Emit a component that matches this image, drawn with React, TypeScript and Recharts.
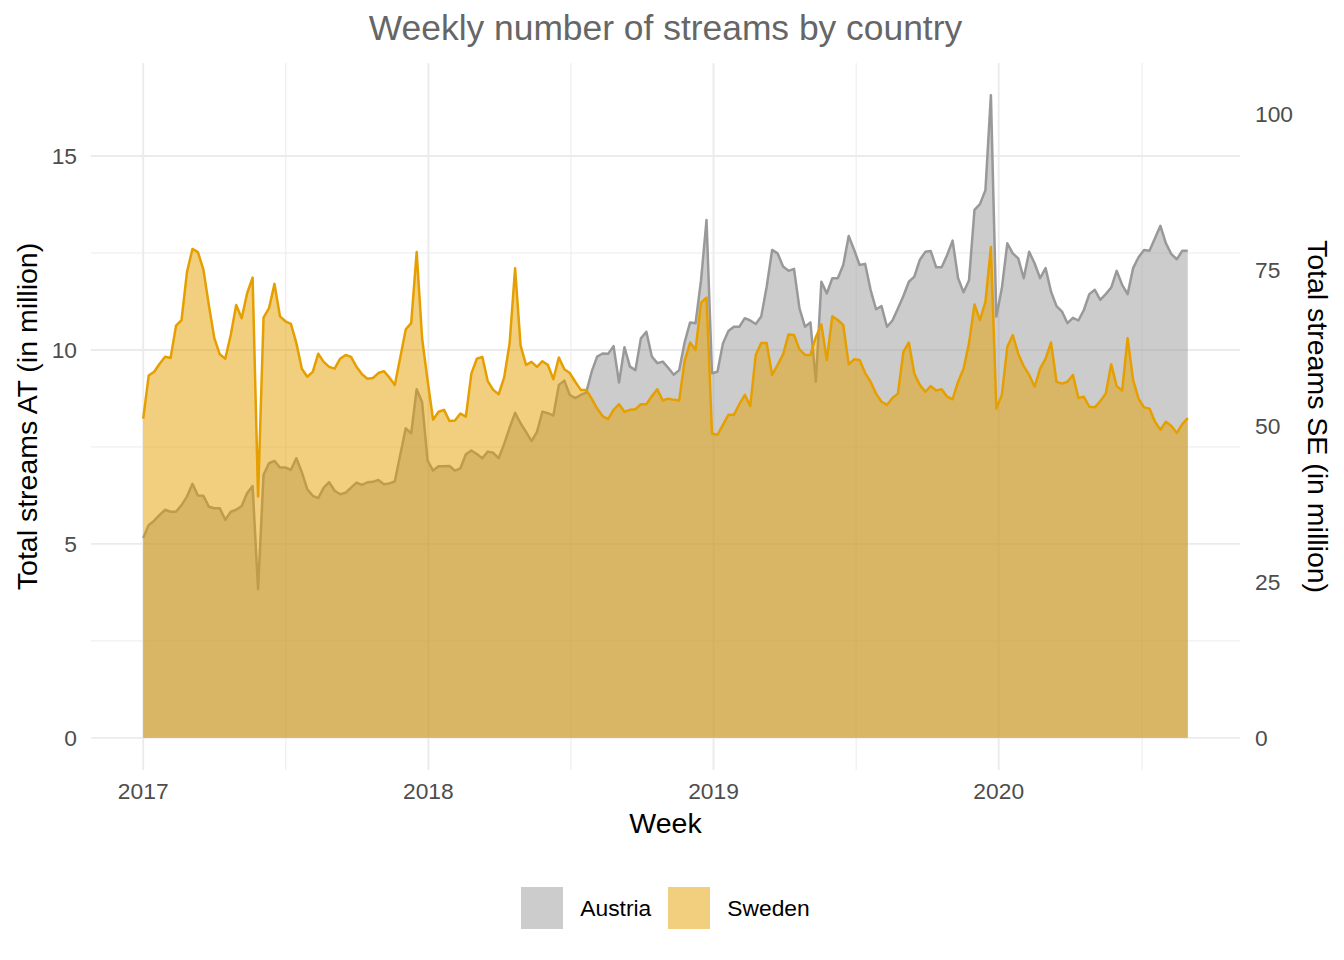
import React from 'react';
import { ComposedChart, Area, XAxis, YAxis, CartesianGrid, Legend, Label } from 'recharts';

// Weekly series, starting on 2017-01-01
const START_DATE = Date.UTC(2017, 0, 1);
const WEEK_MS = 7 * 24 * 3600 * 1000;

// Total streams Austria (million)
const austria = [
  5.15, 5.49, 5.6, 5.75, 5.88, 5.83, 5.83, 6.0, 6.22, 6.55, 6.25, 6.24, 5.96, 5.92, 5.92, 5.62,
  5.83, 5.88, 5.98, 6.31, 6.49, 3.83, 6.78, 7.08, 7.14, 6.97, 6.97, 6.91, 7.21, 6.85, 6.41, 6.24,
  6.18, 6.45, 6.59, 6.37, 6.28, 6.32, 6.45, 6.58, 6.52, 6.59, 6.6, 6.65, 6.54, 6.56, 6.61, 7.3,
  7.98, 7.85, 8.99, 8.65, 7.15, 6.89, 7.0, 7.0, 7.01, 6.89, 6.95, 7.31, 7.41, 7.32, 7.21, 7.38,
  7.35, 7.21, 7.58, 8.0, 8.38, 8.11, 7.89, 7.65, 7.89, 8.41, 8.37, 8.31, 9.1, 9.21, 8.84, 8.76,
  8.84, 8.9, 9.44, 9.83, 9.91, 9.9, 10.1, 9.16, 10.07, 9.57, 9.48, 10.3, 10.47, 9.83, 9.66, 9.7,
  9.54, 9.36, 9.48, 10.2, 10.71, 10.69, 11.8, 13.35, 9.4, 9.44, 10.17, 10.49, 10.6, 10.6, 10.82, 10.76,
  10.67, 10.86, 11.63, 12.58, 12.49, 12.15, 12.04, 12.09, 11.07, 10.6, 10.71, 9.18, 11.76, 11.46, 11.85, 11.85,
  12.19, 12.94, 12.58, 12.19, 12.22, 11.55, 11.05, 11.13, 10.6, 10.76, 11.07, 11.39, 11.76, 11.89, 12.32, 12.53,
  12.55, 12.13, 12.13, 12.45, 12.82, 11.85, 11.49, 11.8, 13.61, 13.76, 14.12, 16.57, 10.86, 11.59, 12.75, 12.49,
  12.36, 11.85, 12.53, 12.23, 11.85, 12.11, 11.5, 11.13, 10.99, 10.69, 10.83, 10.76, 11.03, 11.44, 11.55, 11.29,
  11.44, 11.61, 12.04, 11.68, 11.44, 12.11, 12.39, 12.58, 12.56, 12.88, 13.2, 12.75, 12.47, 12.34, 12.56, 12.56,
];

// Total streams Sweden (million)
const sweden = [
  51.2, 58.1, 58.7, 60.0, 61.1, 60.9, 66.1, 67.0, 74.7, 78.4, 77.9, 75.1, 69.4, 64.1, 61.5, 60.8,
  64.6, 69.4, 67.3, 71.3, 73.8, 38.7, 67.4, 68.9, 72.8, 67.6, 66.8, 66.4, 63.3, 59.2, 57.9, 58.7,
  61.6, 60.3, 59.5, 59.2, 60.8, 61.4, 61.1, 59.5, 58.3, 57.6, 57.7, 58.5, 58.8, 57.8, 56.6, 61.0,
  65.5, 66.5, 77.9, 64.0, 57.3, 51.0, 52.3, 52.6, 50.8, 50.9, 52.0, 51.5, 58.4, 60.8, 61.1, 57.2,
  55.8, 55.1, 57.8, 63.3, 75.3, 62.9, 59.8, 60.3, 59.5, 60.4, 59.8, 57.5, 61.0, 59.1, 58.5, 57.1,
  55.8, 55.8, 54.4, 52.8, 51.6, 51.1, 52.6, 53.5, 52.3, 52.6, 52.7, 53.5, 53.5, 54.8, 55.9, 54.1,
  54.4, 54.2, 54.1, 60.4, 63.4, 62.2, 69.8, 70.6, 48.8, 48.6, 50.2, 51.8, 51.8, 53.5, 55.0, 53.2,
  61.4, 63.3, 63.3, 58.2, 59.8, 61.5, 64.7, 64.6, 62.3, 61.4, 61.4, 64.3, 66.3, 60.6, 67.6, 67.0,
  66.2, 59.9, 60.7, 60.6, 58.5, 57.1, 55.2, 53.9, 53.4, 54.5, 55.2, 61.9, 63.4, 58.4, 56.6, 55.5,
  56.4, 55.7, 55.9, 54.7, 54.3, 57.1, 59.2, 63.3, 69.5, 67.0, 69.9, 78.7, 52.8, 55.0, 62.7, 64.6,
  61.6, 59.6, 58.2, 56.3, 59.2, 60.8, 63.4, 57.1, 56.8, 57.1, 58.2, 54.5, 54.7, 53.1, 53.0, 54.0,
  55.2, 59.9, 56.4, 55.7, 64.1, 57.4, 54.4, 53.0, 52.8, 50.7, 49.4, 50.7, 50.0, 48.9, 50.3, 51.3,
];

const yearTicks = [2017, 2018, 2019, 2020];
const atTicks = [0, 5, 10, 15];
const atMinorTicks = [2.5, 7.5, 12.5];
const seTicks = [0, 25, 50, 75, 100];
const SE_FACTOR = 6.22; // secondary axis scale: SE = AT * factor

const seriesNames = ['Austria', 'Sweden'];
const seriesColors = ['#999999', '#E69F00'];

const data = austria.map((v, i) => ({ t: START_DATE + i * WEEK_MS, at: v, se: sweden[i] }));

const tMin = data[0].t;
const tMax = data[data.length - 1].t;
const tPad = (tMax - tMin) * 0.05;
const X_DOMAIN = [tMin - tPad, tMax + tPad];
const atMax = Math.max(...austria);
const AT_DOMAIN = [-atMax * 0.05, atMax * 1.05];
const SE_DOMAIN = AT_DOMAIN.map((v) => v * SE_FACTOR);

const xMajor = yearTicks.map((y) => Date.UTC(y, 0, 1));
const xMinor = yearTicks.map((y) => Date.UTC(y, 6, 2, 12));

const FONT = '"Liberation Sans", Arial, Helvetica, sans-serif';
const TICK_SIZE = 22.8;
const TITLE_SIZE = 28.5;

const legendContent = () => (
  <div
    style={{
      display: 'flex',
      justifyContent: 'center',
      alignItems: 'center',
      fontFamily: FONT,
      fontSize: TICK_SIZE,
      color: '#000',
      paddingLeft: 91,
      paddingRight: 104,
      boxSizing: 'border-box',
      width: '100%',
    }}
  >
    {seriesNames.map((name, i) => (
      <div key={name} style={{ display: 'flex', alignItems: 'center', marginRight: i === 0 ? 17 : 0 }}>
        <div
          style={{
            width: 42,
            height: 42,
            background: seriesColors[i],
            opacity: 0.5,
            marginRight: 17,
          }}
        />
        <span>{name}</span>
      </div>
    ))}
  </div>
);

export default function App() {
  return (
    <div style={{ position: 'absolute', left: 0, top: 0, width: 1344, height: 960, background: '#fff' }}>
      <div
        style={{
          position: 'absolute',
          left: 91,
          width: 1149,
          top: 8,
          textAlign: 'center',
          fontFamily: FONT,
          fontSize: 35.4,
          color: '#666666',
          lineHeight: '40px',
          zIndex: 2,
        }}
      >
        Weekly number of streams by country
      </div>
      <ComposedChart
        width={1344}
        height={960}
        data={data}
        margin={{ top: 63, right: 0, left: 0, bottom: 150 }}
      >
        <CartesianGrid
          yAxisId="at"
          stroke="#EBEBEB"
          strokeWidth={1}
          horizontalValues={atMinorTicks}
          verticalValues={xMinor}
          syncWithTicks
        />
        <CartesianGrid
          yAxisId="at"
          stroke="#EBEBEB"
          strokeWidth={1.9}
          horizontalValues={atTicks}
          verticalValues={xMajor}
          syncWithTicks
        />
        <XAxis
          dataKey="t"
          type="number"
          domain={X_DOMAIN}
          allowDataOverflow
          ticks={xMajor}
          tickFormatter={(v: number) => String(new Date(v).getUTCFullYear())}
          axisLine={false}
          tickLine={false}
          tickSize={0}
          tickMargin={13}
          height={40}
          tick={{ fontFamily: FONT, fontSize: TICK_SIZE, fill: '#4D4D4D' }}
        >
          <Label
            content={({ viewBox }: any) => (
              <text
                x={viewBox.x + viewBox.width / 2}
                y={viewBox.y + 53}
                textAnchor="middle"
                dominantBaseline="central"
                fontFamily={FONT}
                fontSize={TITLE_SIZE}
                fill="#000"
              >
                Week
              </text>
            )}
          />
        </XAxis>
        <YAxis
          yAxisId="at"
          orientation="left"
          type="number"
          domain={AT_DOMAIN}
          allowDataOverflow
          ticks={atTicks}
          axisLine={false}
          tickLine={false}
          tickSize={0}
          tickMargin={14}
          width={91}
          tick={{ fontFamily: FONT, fontSize: TICK_SIZE, fill: '#4D4D4D' }}
        >
          <Label
            content={({ viewBox }: any) => {
              const cx = 27;
              const cy = viewBox.y + viewBox.height / 2;
              return (
                <text
                  x={cx}
                  y={cy}
                  transform={`rotate(-90, ${cx}, ${cy})`}
                  textAnchor="middle"
                  dominantBaseline="central"
                  fontFamily={FONT}
                  fontSize={TITLE_SIZE}
                  fill="#000"
                >
                  Total streams AT (in million)
                </text>
              );
            }}
          />
        </YAxis>
        <YAxis
          yAxisId="se"
          orientation="right"
          type="number"
          domain={SE_DOMAIN}
          allowDataOverflow
          ticks={seTicks}
          axisLine={false}
          tickLine={false}
          tickSize={0}
          tickMargin={15}
          width={104}
          tick={{ fontFamily: FONT, fontSize: TICK_SIZE, fill: '#4D4D4D' }}
        >
          <Label
            content={({ viewBox }: any) => {
              const cx = viewBox.x + 78;
              const cy = viewBox.y + viewBox.height / 2;
              return (
                <text
                  x={cx}
                  y={cy}
                  transform={`rotate(90, ${cx}, ${cy})`}
                  textAnchor="middle"
                  dominantBaseline="central"
                  fontFamily={FONT}
                  fontSize={TITLE_SIZE}
                  fill="#000"
                >
                  Total streams SE (in million)
                </text>
              );
            }}
          />
        </YAxis>
        <Area
          yAxisId="at"
          type="linear"
          dataKey="at"
          name={seriesNames[0]}
          stroke={seriesColors[0]}
          strokeWidth={2.5}
          strokeLinejoin="round"
          fill={seriesColors[0]}
          fillOpacity={0.5}
          baseValue={0}
          dot={false}
          activeDot={false}
          isAnimationActive={false}
        />
        <Area
          yAxisId="se"
          type="linear"
          dataKey="se"
          name={seriesNames[1]}
          stroke={seriesColors[1]}
          strokeWidth={2.5}
          strokeLinejoin="round"
          fill={seriesColors[1]}
          fillOpacity={0.5}
          baseValue={0}
          dot={false}
          activeDot={false}
          isAnimationActive={false}
        />
        <Legend
          verticalAlign="middle"
          align="center"
          layout="horizontal"
          content={legendContent}
          wrapperStyle={{ position: 'absolute', top: 887, left: 0, width: 1344, height: 42 }}
        />
      </ComposedChart>
    </div>
  );
}
